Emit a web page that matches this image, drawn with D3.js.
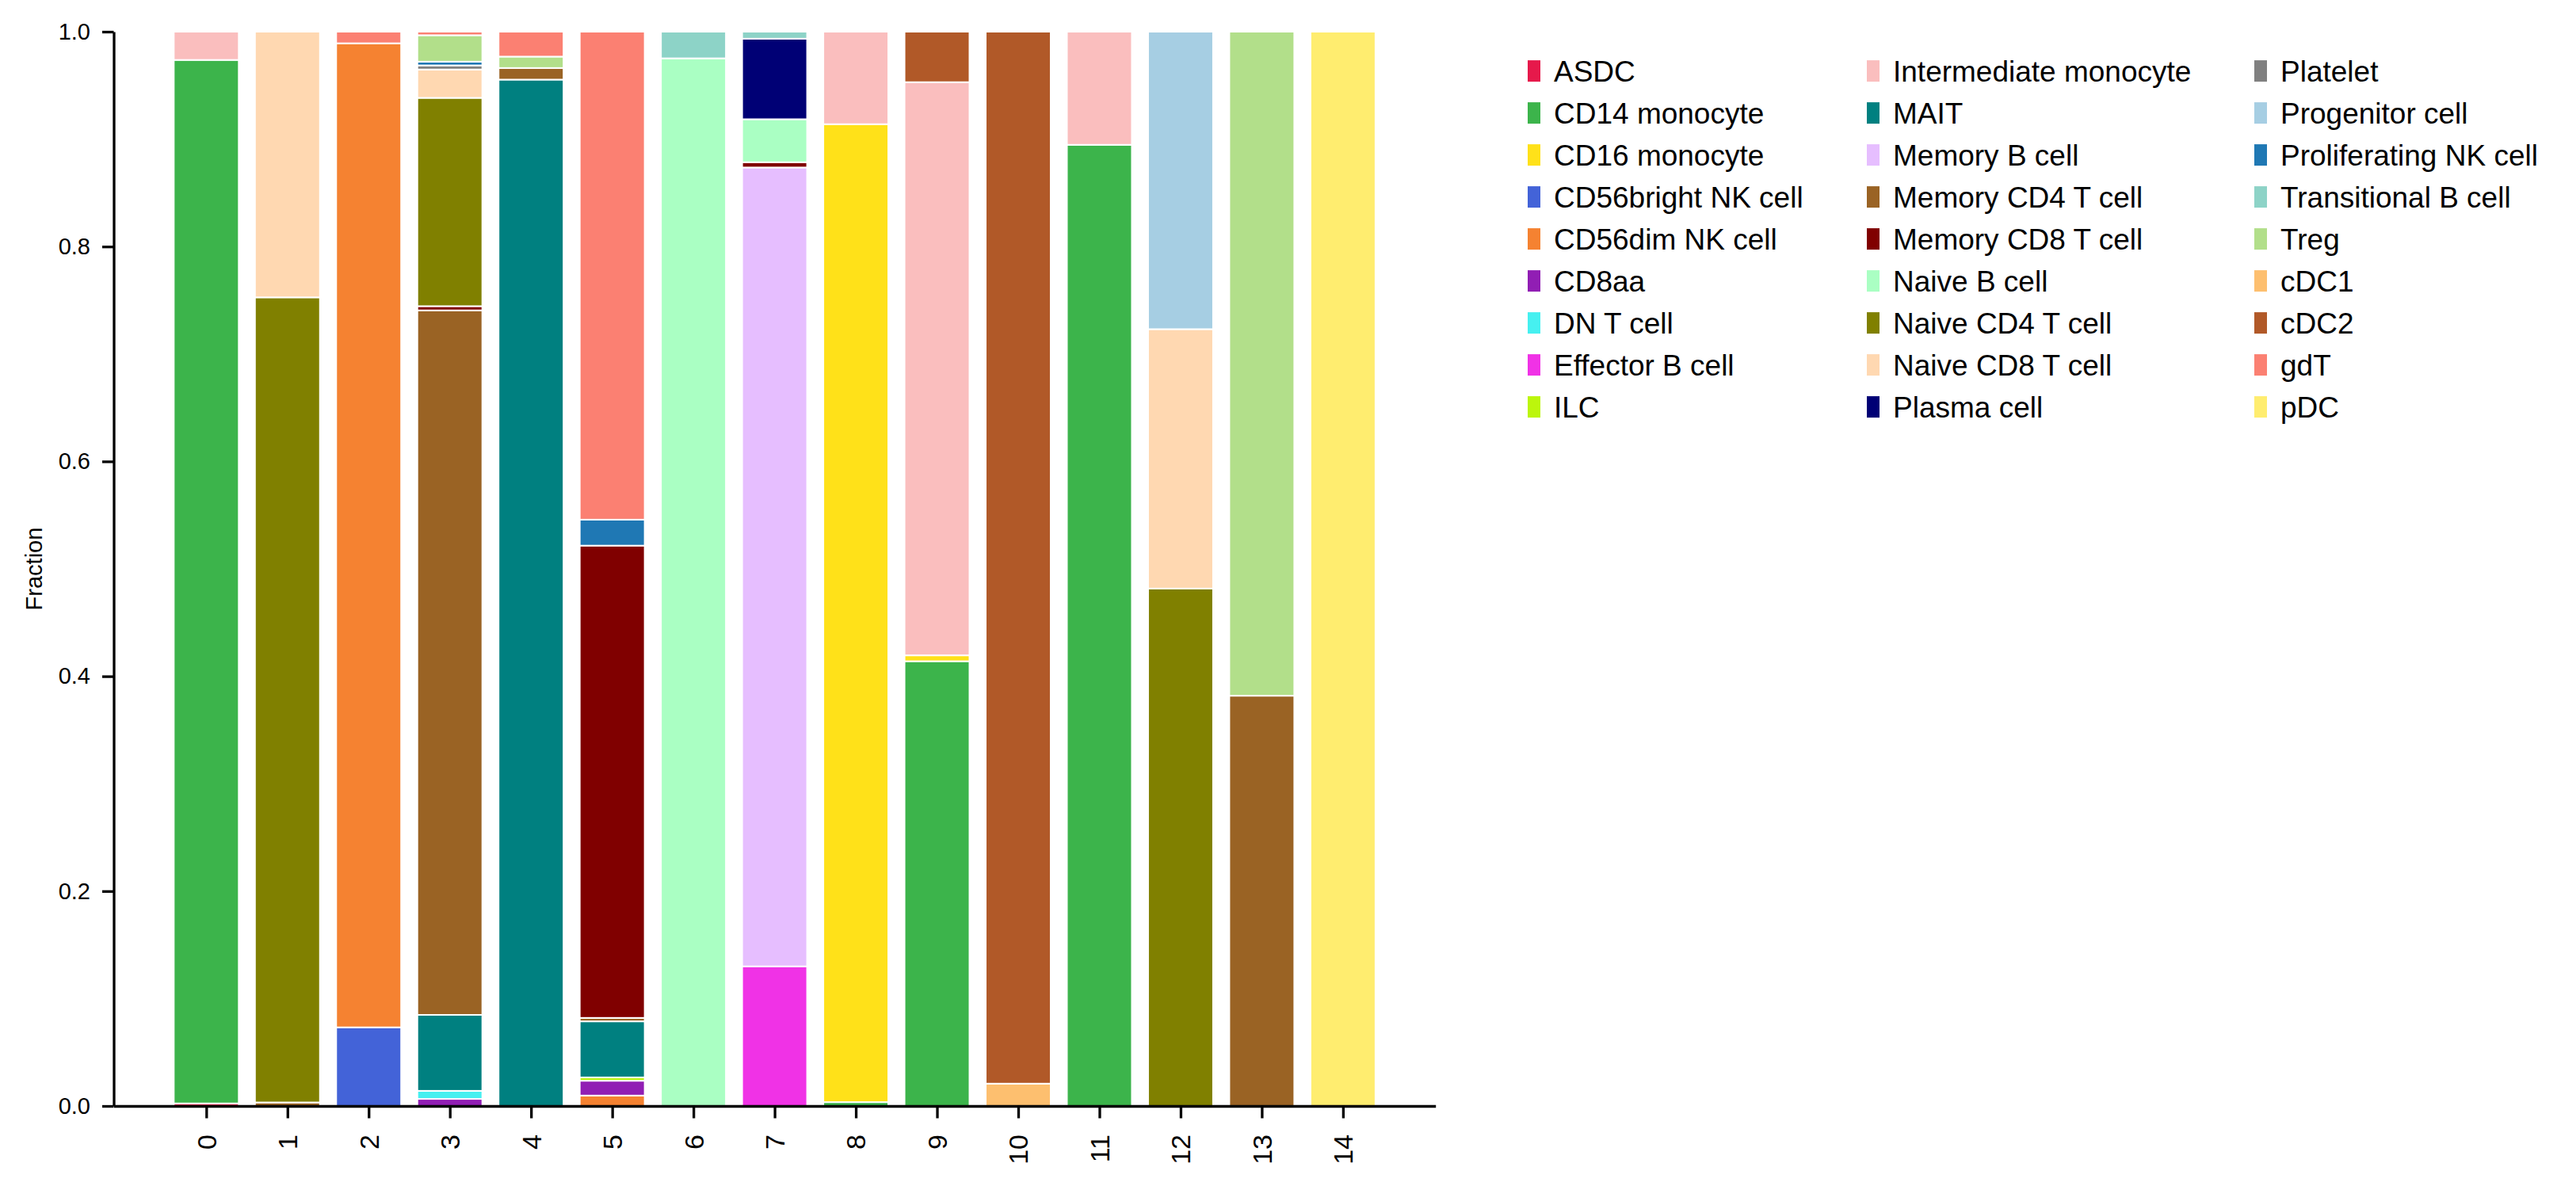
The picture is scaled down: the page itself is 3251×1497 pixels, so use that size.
<!DOCTYPE html>
<html>
<head>
<meta charset="utf-8">
<script src="https://cdn.jsdelivr.net/npm/d3@7"></script>
<style>
  html, body { margin: 0; padding: 0; background: #fff; }
  svg { display: block; font-family: "Liberation Sans", Arial, sans-serif; }
</style>
</head>
<body>
<svg id="chart" width="3251" height="1497"></svg>
<script>
// ---- data ----
const clusters = ["0","1","2","3","4","5","6","7","8","9","10","11","12","13","14"];
const cellTypes = [
  "ASDC","CD14 monocyte","CD16 monocyte","CD56bright NK cell","CD56dim NK cell","CD8aa",
  "DN T cell","Effector B cell","ILC","Intermediate monocyte","MAIT","Memory B cell",
  "Memory CD4 T cell","Memory CD8 T cell","Naive B cell","Naive CD4 T cell","Naive CD8 T cell",
  "Plasma cell","Platelet","Progenitor cell","Proliferating NK cell","Transitional B cell",
  "Treg","cDC1","cDC2","gdT","pDC"
];
const cellColors = [
  "#e6194b","#3cb44b","#ffe119","#4363d8","#f58231","#911eb4",
  "#46f0f0","#f032e6","#bcf60c","#fabebe","#008080","#e6beff",
  "#9a6324","#800000","#aaffc3","#808000","#ffd8b1",
  "#000075","#808080","#a6cee3","#1f78b4","#8dd3c7",
  "#b2df8a","#fdbf6f","#b15928","#fb8072","#ffed6f"
];
const yTicks = [0, 0.2, 0.4, 0.6, 0.8, 1.0];
const yLabel = "Fraction";

// fractions per cluster: [cell type, fraction]
const cluster0 = [["ASDC",0.0024],["CD14 monocyte",0.9713],["Intermediate monocyte",0.0263]];
const cluster1 = [["Memory CD4 T cell",0.0033],["Naive CD4 T cell",0.7494],["Naive CD8 T cell",0.2473]];
const cluster2 = [["CD56bright NK cell",0.0732],["CD56dim NK cell",0.9160],["gdT",0.0108]];
const cluster3 = [["CD8aa",0.0066],["DN T cell",0.0075],["MAIT",0.0707],["Memory CD4 T cell",0.6558],
  ["Memory CD8 T cell",0.0039],["Naive CD4 T cell",0.1939],["Naive CD8 T cell",0.0264],["Platelet",0.0038],
  ["Proliferating NK cell",0.0035],["Treg",0.0246],["gdT",0.0033]];
const cluster4 = [["MAIT",0.9554],["Memory CD4 T cell",0.0108],["Treg",0.0106],["gdT",0.0232]];
const cluster5 = [["CD56dim NK cell",0.0097],["CD8aa",0.0138],["ILC",0.0031],["MAIT",0.0522],
  ["Memory CD4 T cell",0.0032],["Memory CD8 T cell",0.4396],["Proliferating NK cell",0.0242],["gdT",0.4542]];
const cluster6 = [["Naive B cell",0.9752],["Transitional B cell",0.0248]];
const cluster7 = [["Effector B cell",0.1300],["Memory B cell",0.7436],["Memory CD8 T cell",0.0049],
  ["Naive B cell",0.0400],["Plasma cell",0.0750],["Transitional B cell",0.0065]];
const cluster8 = [["CD14 monocyte",0.0036],["CD16 monocyte",0.9103],["Intermediate monocyte",0.0861]];
const cluster9 = [["CD14 monocyte",0.4140],["CD16 monocyte",0.0055],["Intermediate monocyte",0.5335],["cDC2",0.0470]];
const cluster10 = [["cDC1",0.0208],["cDC2",0.9792]];
const cluster11 = [["CD14 monocyte",0.8947],["Intermediate monocyte",0.1053]];
const cluster12 = [["Naive CD4 T cell",0.4817],["Naive CD8 T cell",0.2414],["Progenitor cell",0.2769]];
const cluster13 = [["Memory CD4 T cell",0.3819],["Treg",0.6181]];
const cluster14 = [["pDC",1.0]];

const clusterFractions = [cluster0,cluster1,cluster2,cluster3,cluster4,cluster5,cluster6,cluster7,
  cluster8,cluster9,cluster10,cluster11,cluster12,cluster13,cluster14];

// ---- build table for d3.stack ----
const table = clusters.map((c, i) => {
  const row = { cluster: c, idx: i };
  cellTypes.forEach(t => row[t] = 0);
  clusterFractions[i].forEach(([t, v]) => row[t] = v);
  return row;
});

const svg = d3.select("#chart");
const font = '"Liberation Sans", Arial, sans-serif';

const x = d3.scaleLinear().domain([-1.14, 15.14]).range([143.5, 1811.7]);
const y = d3.scaleLinear().domain([0, 1]).range([1396, 40]);
const color = d3.scaleOrdinal().domain(cellTypes).range(cellColors);
const barWidth = 0.8;

const stacked = d3.stack().keys(cellTypes)(table);

const layers = svg.append("g").selectAll("g")
  .data(stacked).join("g")
  .attr("fill", d => color(d.key));

layers.selectAll("rect")
  .data(d => d.filter(s => s[1] - s[0] > 0))
  .join("rect")
  .attr("x", d => x(d.data.idx - barWidth / 2))
  .attr("width", d => x(barWidth) - x(0))
  .attr("y", d => y(d[1]))
  .attr("height", d => y(d[0]) - y(d[1]))
  .attr("stroke", "#ffffff")
  .attr("stroke-width", 2);

// ---- axes ----
const yAxis = d3.axisLeft(y).tickValues(yTicks).tickFormat(d3.format(".1f"))
  .tickSize(14.5).tickSizeOuter(0).tickPadding(15);
const gy = svg.append("g").attr("transform", `translate(${x(-1.14)},0)`).call(yAxis);
gy.select(".domain").attr("stroke", "#000").attr("stroke-width", 3.3);
gy.selectAll(".tick line").attr("stroke", "#000").attr("stroke-width", 3.3);
gy.selectAll(".tick text").attr("font-size", 29).attr("font-family", font).attr("fill", "#000");

const xAxis = d3.axisBottom(x).tickValues(d3.range(clusters.length))
  .tickFormat(i => clusters[i]).tickSize(15.5).tickSizeOuter(0);
const gx = svg.append("g").attr("transform", `translate(0,${y(0)})`).call(xAxis);
gx.select(".domain").attr("stroke", "#000").attr("stroke-width", 3.3);
gx.selectAll(".tick line").attr("stroke", "#000").attr("stroke-width", 3.3);
gx.selectAll(".tick text")
  .attr("font-size", 34).attr("font-family", font).attr("fill", "#000")
  .attr("y", 0).attr("x", -36).attr("dy", "0.35em")
  .attr("transform", "rotate(-90)")
  .style("text-anchor", "end");

svg.append("text")
  .attr("transform", `translate(53,${(y(0) + y(1)) / 2}) rotate(-90)`)
  .attr("text-anchor", "middle")
  .attr("font-size", 29).attr("font-family", font)
  .text(yLabel);

// ---- legend ----
const colMarkerX = [1928, 2356, 2845];
const legend = svg.append("g").selectAll("g")
  .data(cellTypes).join("g")
  .attr("transform", (d, i) => `translate(${colMarkerX[Math.floor(i / 9)]},${89.6 + (i % 9) * 53})`);
legend.append("rect")
  .attr("x", 0).attr("y", -13.5).attr("width", 16).attr("height", 27)
  .attr("fill", d => color(d));
legend.append("text")
  .attr("x", 33).attr("y", 0).attr("dy", "0.35em")
  .attr("font-size", 37).attr("font-family", font)
  .text(d => d);
</script>
</body>
</html>
